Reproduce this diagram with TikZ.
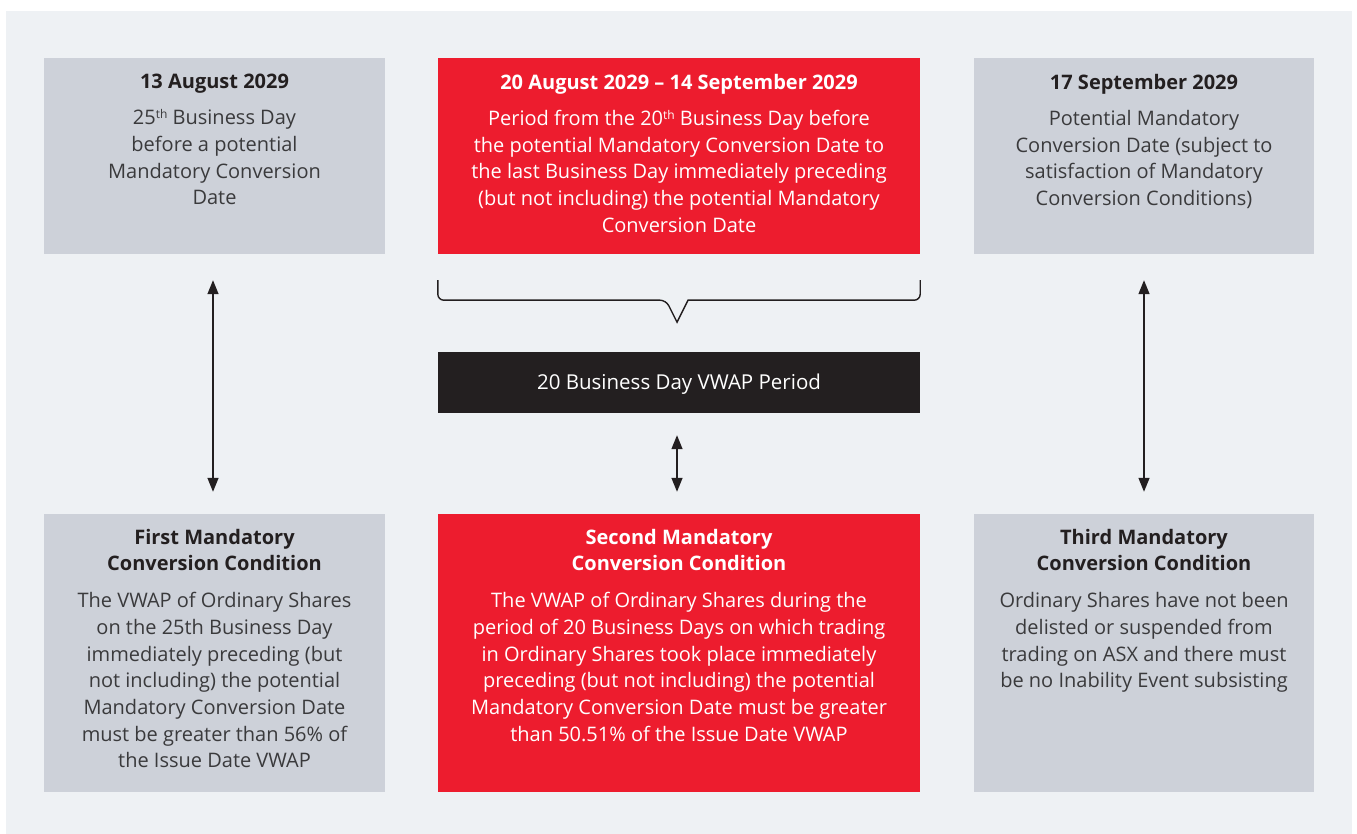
\documentclass[tikz,border=0pt]{standalone}
\usepackage{fontspec}
\setmainfont{Open Sans}
\usetikzlibrary{arrows.meta,calc}
\definecolor{bgc}{HTML}{EEF1F4}
\definecolor{grayb}{HTML}{CDD1D9}
\definecolor{redb}{HTML}{ED1C2E}
\definecolor{blackb}{HTML}{231F20}
\definecolor{txtg}{HTML}{3A3A3C}
\tikzset{
  boxr/.style={draw=none, inner sep=0pt, minimum width=#1, rectangle},
  graybox/.style={fill=grayb},
  redbox/.style={fill=redb},
  blackbox/.style={fill=blackb, text=white, font=\fontsize{20.5}{26.5}\selectfont},
  boxtext/.style={anchor=north, align=center, inner sep=0pt, font=\fontsize{20}{26.7}\selectfont},
  dark/.style={text=txtg},
  light/.style={text=white},
  conn/.style={draw=blackb, line width=1.4pt, {Triangle[length=14pt,width=11pt]}-{Triangle[length=14pt,width=11pt]}},
  bracepath/.style={draw=blackb, line width=1.4pt}
}
\newcommand{\ttl}[1]{{\bfseries #1}}
\newcommand{\supth}[1]{\raisebox{0.55ex}{\fontsize{12}{12}\selectfont #1}}
\begin{document}
\begin{tikzpicture}[x=1pt,y=-1pt]
\useasboundingbox (0,0) rectangle (1357,834);
\fill[bgc] (6,11) rectangle (1352,834);
% top row
\node[boxr=341pt, minimum height=196pt, graybox] (b1) at (214.5,156) {};
\node[boxr=482pt, minimum height=196pt, redbox] (b2) at (679,156) {};
\node[boxr=340pt, minimum height=196pt, graybox] (b3) at (1144,156) {};
% black
\node[boxr=482pt, minimum height=61pt, blackbox] (bk) at (679,382.5) {};
\node[blackbox, fill=none, inner sep=0pt] (bkt) at (679,384.5) {20 Business Day VWAP Period};
% bottom row
\node[boxr=341pt, minimum height=278pt, graybox] (b4) at (214.5,653) {};
\node[boxr=482pt, minimum height=278pt, redbox] (b5) at (679,653) {};
\node[boxr=340pt, minimum height=278pt, graybox] (b6) at (1144,653) {};
% texts
\node[boxtext, dark] (t1) at ([yshift=-16]b1.north) {{\color{blackb}\ttl{13 August 2029}}\\[9.5pt]
25\supth{th} Business Day\\before a potential\\Mandatory Conversion\\Date};
\node[boxtext, light] (t2) at ([yshift=-16]b2.north) {\ttl{20 August 2029 -- 14 September 2029}\\[9.5pt]
Period from the 20\supth{th} Business Day before\\the potential Mandatory Conversion Date to\\the last Business Day immediately preceding\\(but not including) the potential Mandatory\\Conversion Date};
\node[boxtext, dark] (t3) at ([yshift=-16]b3.north) {{\color{blackb}\ttl{17 September 2029}}\\[9.5pt]
Potential Mandatory\\Conversion Date (subject to\\satisfaction of Mandatory\\Conversion Conditions)};
\node[boxtext, dark] (t4) at ([yshift=-15]b4.north) {{\color{blackb}\ttl{First Mandatory}}\\{\color{blackb}\ttl{Conversion Condition}}\\[10pt]
The VWAP of Ordinary Shares\\on the 25th Business Day\\immediately preceding (but\\not including) the potential\\Mandatory Conversion Date\\must be greater than 56\% of\\the Issue Date VWAP};
\node[boxtext, light] (t5) at ([yshift=-15]b5.north) {\ttl{Second Mandatory}\\\ttl{Conversion Condition}\\[10pt]
The VWAP of Ordinary Shares during the\\period of 20 Business Days on which trading\\in Ordinary Shares took place immediately\\preceding (but not including) the potential\\Mandatory Conversion Date must be greater\\than 50.51\% of the Issue Date VWAP};
\node[boxtext, dark] (t6) at ([yshift=-15]b6.north) {{\color{blackb}\ttl{Third Mandatory}}\\{\color{blackb}\ttl{Conversion Condition}}\\[10pt]
Ordinary Shares have not been\\delisted or suspended from\\trading on ASX and there must\\be no Inability Event subsisting};
% brace
\coordinate (bl) at ([yshift=-26]b2.south west);
\coordinate (br) at ([yshift=-26]b2.south east);
\coordinate (tip) at ($(b2.south)+(-2,68)$);
\draw[bracepath, rounded corners=6pt] (bl) -- ++(0,20) -- ($(tip)+(-11,-22)$) [sharp corners] -- (tip) -- ($(tip)+(11,-22)$) [rounded corners=6pt] -- ($(br)+(0,20)$) -- (br);
% connectors
\draw[conn, shorten <=26pt, shorten >=22pt] ([xshift=-1.5]b1.south) -- ([xshift=-1.5]b4.north);
\draw[conn, shorten <=22pt, shorten >=22pt] ([xshift=-2]bk.south) -- ([xshift=-2]b5.north);
\draw[conn, shorten <=26pt, shorten >=22pt] (b3.south) -- (b6.north);
\end{tikzpicture}
\end{document}
